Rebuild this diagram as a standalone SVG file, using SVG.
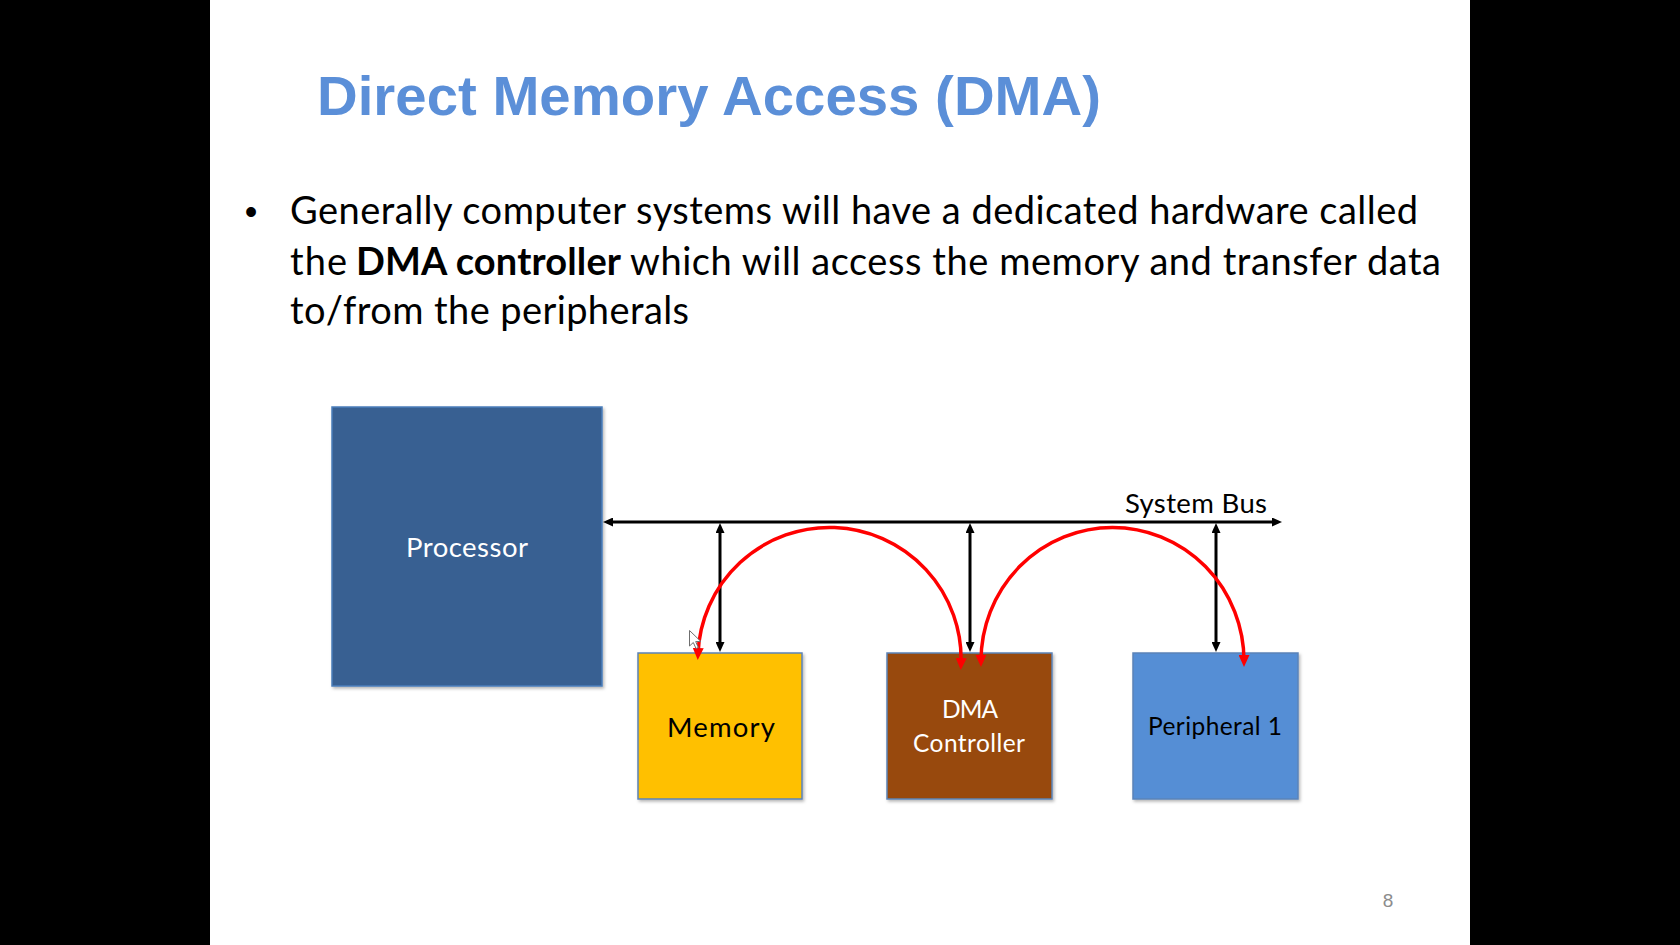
<svg xmlns="http://www.w3.org/2000/svg" width="1680" height="945" viewBox="0 0 1680 945">
  <style>
    .title { font-family: "Liberation Sans", Arial, sans-serif; font-weight: bold; font-size: 56px; fill: #5B8FD8; }
    .body { font-family: Lato, "Open Sans", sans-serif; font-size: 38px; fill: #000000; }
    .body-b { font-family: Lato, "Open Sans", sans-serif; font-size: 38px; font-weight: bold; fill: #000000; }
    .lbl { font-family: Lato, "Open Sans", sans-serif; font-size: 27.5px; }
    .lbl-s { font-family: Lato, "Open Sans", sans-serif; font-size: 24.5px; }
    .box { stroke-width: 1.5; filter: url(#shadow); }
    .bus { fill: none; stroke: #000000; stroke-width: 3; }
    .flow { fill: none; stroke: #FF0000; stroke-width: 3.5; }
  </style>
  <defs>
    <filter id="shadow" x="-10%" y="-10%" width="125%" height="125%">
      <feDropShadow dx="1.5" dy="2" stdDeviation="1.5" flood-color="#000000" flood-opacity="0.28"/>
    </filter>
    <marker id="ah-black" viewBox="0 0 10 9" refX="5" refY="4.5" markerWidth="10" markerHeight="9" markerUnits="userSpaceOnUse" orient="auto-start-reverse">
      <path d="M0,0 L10,4.5 L0,9 z" fill="#000000"/>
    </marker>
    <marker id="ah-red" viewBox="0 0 12 11" refX="6" refY="5.5" markerWidth="12" markerHeight="11" markerUnits="userSpaceOnUse" orient="auto-start-reverse">
      <path d="M0,0 L12,5.5 L0,11 z" fill="#FF0000"/>
    </marker>
  </defs>

  <!-- page background with dark side bands -->
  <rect x="0" y="0" width="1680" height="945" fill="#000000"/>
  <rect x="210" y="0" width="1260" height="945" fill="#FFFFFF"/>

  <!-- heading -->
  <text class="title" x="317" y="115" textLength="784" lengthAdjust="spacingAndGlyphs">Direct Memory Access (DMA)</text>

  <!-- bullet paragraph -->
  <g id="bullet">
    <text x="251" y="224" font-family="Liberation Sans, Arial, sans-serif" font-size="36" text-anchor="middle">•</text>
    <text class="body" x="290" y="224" textLength="1128">Generally computer systems will have a dedicated hardware called</text>
    <text class="body" x="290" y="275" textLength="57">the</text>
    <text class="body-b" x="356" y="275" textLength="265">DMA controller</text>
    <text class="body" x="630" y="275" textLength="811">which will access the memory and transfer data</text>
    <text class="body" x="290" y="324" textLength="399">to/from the peripherals</text>
  </g>

  <!-- nodes -->
  <g id="processor">
    <rect class="box" x="332" y="407" width="270" height="279" fill="#376092" stroke="#4A7EBB"/>
    <text class="lbl" x="406" y="557" textLength="122" fill="#FFFFFF">Processor</text>
  </g>
  <g id="memory">
    <rect class="box" x="638" y="653" width="164" height="146" fill="#FFC000" stroke="#5B83B8"/>
    <text class="lbl" x="667" y="737" textLength="108" fill="#000000">Memory</text>
  </g>
  <g id="dma-controller">
    <rect class="box" x="887" y="653" width="165" height="146" fill="#984807" stroke="#5B83B8"/>
    <text class="lbl-s" x="942" y="718" textLength="56" fill="#FFFFFF">DMA</text>
    <text class="lbl-s" x="913" y="752" textLength="112" fill="#FFFFFF">Controller</text>
  </g>
  <g id="peripheral-1">
    <rect class="box" x="1133" y="653" width="165" height="146" fill="#558ED5" stroke="#5B83B8"/>
    <text class="lbl-s" x="1148" y="735" textLength="134" fill="#000000">Peripheral 1</text>
  </g>

  <!-- connectors: system bus, taps and transfer paths -->
  <g id="connectors">
    <path class="bus" d="M608,522 L1277,522" marker-start="url(#ah-black)" marker-end="url(#ah-black)"/>
    <text class="lbl" x="1125" y="513" textLength="142" fill="#000000">System Bus</text>
    <path class="bus" d="M720,528 L720,647" marker-start="url(#ah-black)" marker-end="url(#ah-black)"/>
    <path class="bus" d="M970,528 L970,647" marker-start="url(#ah-black)" marker-end="url(#ah-black)"/>
    <path class="bus" d="M1216,528 L1216,647" marker-start="url(#ah-black)" marker-end="url(#ah-black)"/>
    <path class="flow" d="M698,654 A131 131 0 0 1 961,664" marker-start="url(#ah-red)" marker-end="url(#ah-red)"/>
    <path class="flow" d="M981,661 A131 133 0 0 1 1244,661" marker-start="url(#ah-red)" marker-end="url(#ah-red)"/>
  </g>

  <!-- pointer -->
  <path d="M689.5,630.5 L689.5,646 L693.3,642.5 L696,648.5 L698.3,647.5 L695.7,641.6 L700.8,641.4 Z" fill="#FFFFFF" stroke="#6E6E6E" stroke-width="1"/>

  <!-- slide number -->
  <text x="1388" y="907" font-family="Liberation Sans, Arial, sans-serif" font-size="19" fill="#8C8C8C" text-anchor="middle">8</text>
</svg>
